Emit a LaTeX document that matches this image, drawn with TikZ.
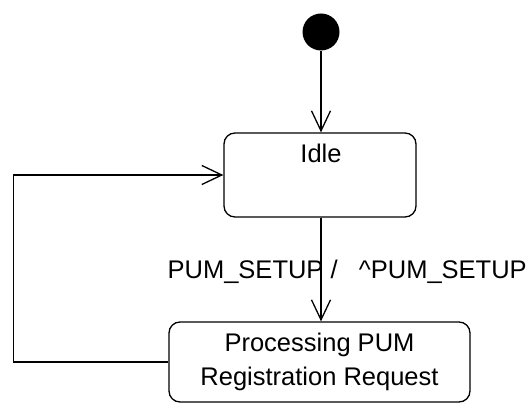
\documentclass[tikz,border=0pt]{standalone}
\usepackage{fontspec}
\setmainfont{Liberation Sans}
\usetikzlibrary{arrows.meta}
\begin{document}
\begin{tikzpicture}[x=1pt,y=-1pt, line width=1.3pt,
  state/.style={draw, rounded corners=11pt, inner sep=0pt},
  trans/.style={-{Straight Barb[length=20pt,width=19pt,line width=1.3pt]}},
  txt/.style={font=\fontsize{25.5}{34}\selectfont, inner sep=0pt}]
\useasboundingbox (0,0) rectangle (530,403);
\node[circle, fill, inner sep=0pt, minimum size=37pt] (init) at (321,32) {};
\node[state, minimum width=192pt, minimum height=84pt] (idle) at (320,175) {};
\node[txt, anchor=base] (idlelabel) at (321,163) {Idle};
\node[state, txt, minimum width=301pt, minimum height=80pt, align=center] (proc) at (319.5,362) {Processing PUM\\Registration Request};
\node[txt, anchor=base west] (lbl) at (167,279) {PUM\_SETUP /\ \ \ \textasciicircum PUM\_SETUP};
\coordinate (loopbl) at (13.5,362);
\coordinate (looptl) at (13.5,175);
\draw[trans] (init.south) -- (init.south |- idle.north);
\draw[trans] (init |- idle.south) -- (init |- proc.north);
\draw[trans] (proc.west) -- (loopbl) -- (looptl) -- (idle.west);
\end{tikzpicture}
\end{document}
